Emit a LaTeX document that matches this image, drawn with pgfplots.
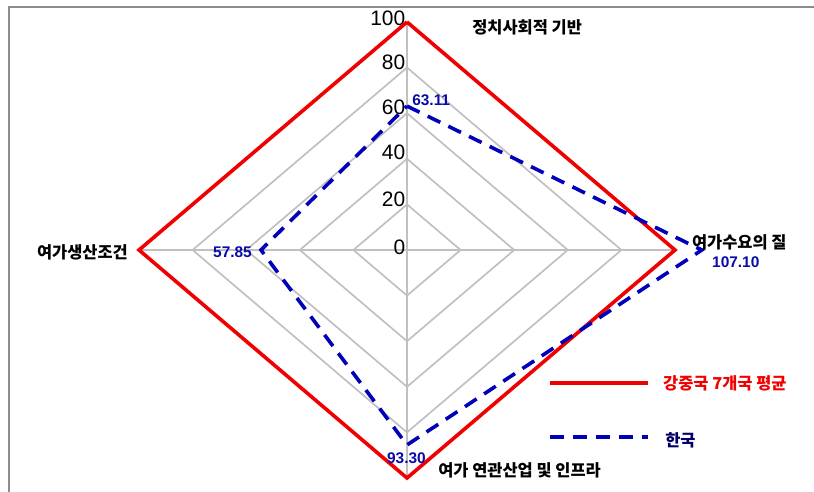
\documentclass[border=0pt]{standalone}
\usepackage{pgfplots}
\pgfplotsset{compat=1.18}
\usepackage{fontspec}
\setmainfont{Liberation Sans}
\newfontfamily\kr{Noto Sans CJK KR}
\definecolor{gridgray}{RGB}{192,192,192}
\definecolor{redline}{RGB}{240,0,0}
\definecolor{blueline}{RGB}{0,0,185}
\definecolor{bluetext}{RGB}{10,10,170}
\definecolor{frame}{RGB}{140,140,140}
\begin{document}
\begin{tikzpicture}
\begin{axis}[scale only axis, width=814bp, height=492bp,
  xmin=-151.87, xmax=151.87, ymin=-106.14, ymax=109.65,
  axis lines=none, clip=false]
% frame
\addplot[frame, line width=1.5bp] coordinates {(-148.5,-106.14) (-148.5,106.6) (151.87,106.6)};
% grid rings
\addplot[gridgray, line width=1.7bp] coordinates {(0,20) (20,0) (0,-20) (-20,0) (0,20)};
\addplot[gridgray, line width=1.7bp] coordinates {(0,40) (40,0) (0,-40) (-40,0) (0,40)};
\addplot[gridgray, line width=1.7bp] coordinates {(0,60) (60,0) (0,-60) (-60,0) (0,60)};
\addplot[gridgray, line width=1.7bp] coordinates {(0,80) (80,0) (0,-80) (-80,0) (0,80)};
\addplot[gridgray, line width=1.7bp] coordinates {(0,100) (0,-100)};
\addplot[gridgray, line width=1.7bp] coordinates {(-100,0) (100,0)};
% tick labels
\foreach \r/\dy in {0/1.2,20/2.2,40/2.8,60/2.4,80/2.2,100/1.5} {
  \edef\tmp{\noexpand\node[anchor=east, inner sep=0pt, font=\noexpand\fontsize{21}{24}\noexpand\selectfont] at (axis cs:-0.6,\r+\dy) {\r};}
  \tmp
}
% series: 7-country average
\addplot[redline, line width=3.6bp, line join=miter] coordinates {(0,100) (100,0) (0,-100) (-100,0) (0,100)};
% series: Korea
\addplot[blueline, line width=3.6bp, line join=miter, dash pattern=on 14bp off 9bp] coordinates {(0,63.11) (110,0) (0,-85.5) (-54.5,0) (0,63.11)};
% legend samples
\addplot[redline, line width=3.6bp] coordinates {(53.4,-58.3) (89.9,-58.3)};
\addplot[blueline, line width=3.6bp, dash pattern=on 14bp off 9bp] coordinates {(53.4,-82.0) (89.9,-82.0)};
% category labels
\node[anchor=west, inner sep=0pt, font=\kr\bfseries\fontsize{16.5}{19}\selectfont] at (axis cs:24.3,97.8) {정치사회적 기반};
\node[anchor=west, inner sep=0pt, font=\kr\bfseries\fontsize{16.5}{19}\selectfont] at (axis cs:106.3,3.5) {여가수요의 질};
\node[anchor=east, inner sep=0pt, font=\kr\bfseries\fontsize{16.5}{19}\selectfont] at (axis cs:-104.1,-0.9) {여가생산조건};
\node[anchor=west, inner sep=0pt, font=\kr\bfseries\fontsize{16.5}{19}\selectfont] at (axis cs:11.6,-96.5) {여가 연관산업 및 인프라};
% value labels
\node[anchor=west, inner sep=0pt, text=bluetext, font=\bfseries\fontsize{15.5}{18}\selectfont] at (axis cs:1.9,65.8) {63.11};
\node[anchor=west, inner sep=0pt, text=bluetext, font=\bfseries\fontsize{15.5}{18}\selectfont] at (axis cs:113.8,-5.3) {107.10};
\node[anchor=west, inner sep=0pt, text=bluetext, font=\bfseries\fontsize{15.5}{18}\selectfont] at (axis cs:-72.4,-0.9) {57.85};
\node[anchor=west, inner sep=0pt, text=bluetext, font=\bfseries\fontsize{15.5}{18}\selectfont] at (axis cs:-7.5,-91.2) {93.30};
% legend text
\node[anchor=west, inner sep=0pt, text=redline, font=\kr\bfseries\fontsize{16.5}{19}\selectfont] at (axis cs:95.5,-58.3) {강중국 7개국 평균};
\node[anchor=west, inner sep=0pt, text=blue!40!black, font=\kr\bfseries\fontsize{16.5}{19}\selectfont] at (axis cs:96.3,-83.3) {한국};
\end{axis}
\pgfresetboundingbox
\useasboundingbox (current axis.south west) rectangle (current axis.north east);
\end{tikzpicture}
\end{document}
